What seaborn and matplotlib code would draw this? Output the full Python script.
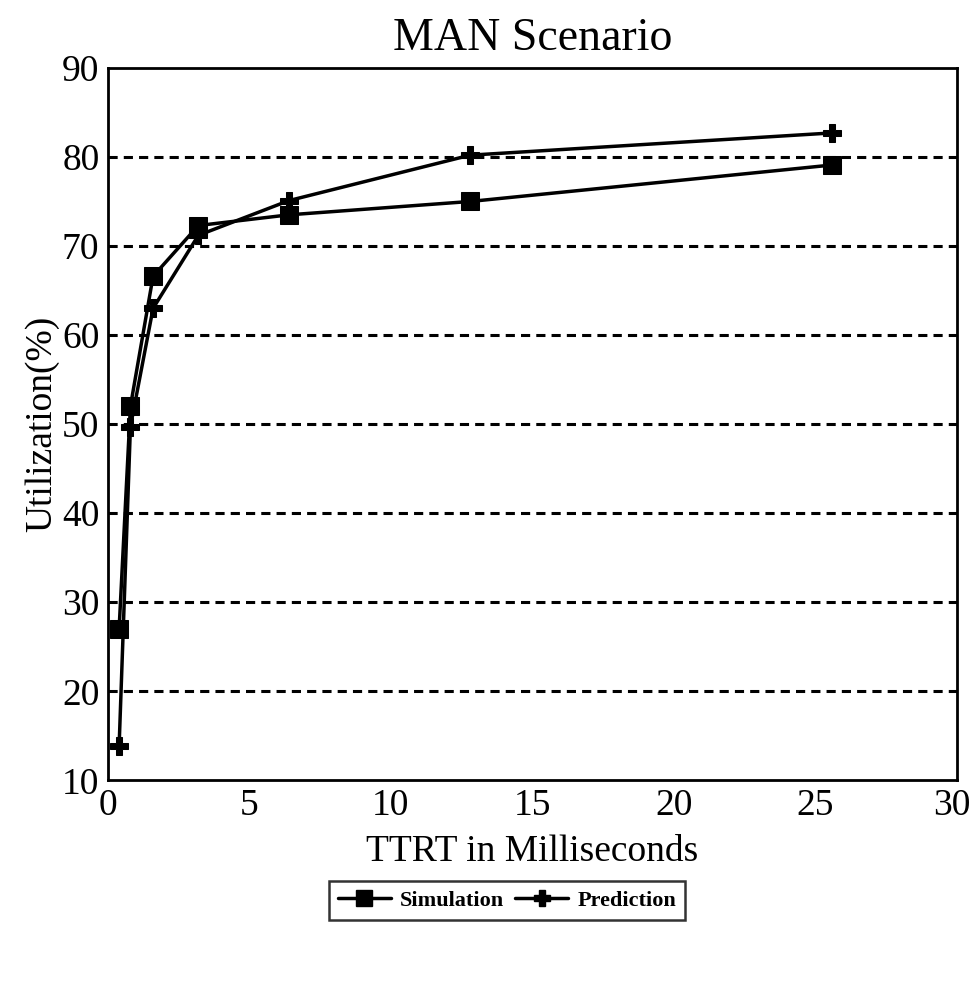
import pandas as pd
import matplotlib.pyplot as plt
import matplotlib.transforms as mtransforms
import seaborn as sns

# Data
ttrt = [0.4, 0.8, 1.6, 3.2, 6.4, 12.8, 25.6]
simulation = [27.0, 52.0, 66.6, 72.3, 73.5, 75.0, 79.1]
prediction = [13.8, 49.7, 63.0, 71.2, 75.1, 80.2, 82.7]
series_names = ["Simulation", "Prediction"]
y_ticks = [10, 20, 30, 40, 50, 60, 70, 80, 90]
x_ticks = [0, 5, 10, 15, 20, 25, 30]

df = pd.DataFrame({
    "TTRT": ttrt * 2,
    "Utilization": simulation + prediction,
    "Series": [series_names[0]] * len(ttrt) + [series_names[1]] * len(ttrt),
})

sns.set_style("white")
plt.rcParams["font.family"] = ["Liberation Serif", "DejaVu Serif"]
plt.rcParams["text.color"] = "black"
plt.rcParams["axes.labelcolor"] = "black"
plt.rcParams["xtick.color"] = "black"
plt.rcParams["ytick.color"] = "black"

fig = plt.figure(figsize=(9.71, 9.84), dpi=100)
ax = fig.add_axes([0.111, 0.207, 0.8746, 0.724])

sns.lineplot(
    data=df, x="TTRT", y="Utilization", hue="Series", style="Series",
    markers={"Simulation": "s", "Prediction": "P"}, dashes=False,
    palette={"Simulation": "black", "Prediction": "black"},
    markersize=13, linewidth=2.5, markeredgecolor="black",
    ax=ax, legend=False,
)

ax.set_xlim(0, 30)
ax.set_ylim(10, 90)
ax.set_xticks(x_ticks)
ax.set_yticks(y_ticks)
for y in y_ticks[1:-1]:
    ax.axhline(y, color="black", linestyle=(0, (3, 2)), linewidth=2.2, zorder=0)

for s in ax.spines.values():
    s.set_color("black")
    s.set_linewidth(2)

ax.tick_params(axis="x", direction="in", length=9, width=1.5, labelsize=27, pad=6)
ax.tick_params(axis="y", direction="out", length=5, width=1.5, labelsize=27, pad=1)
ax.set_xlabel("TTRT in Milliseconds", fontsize=27, labelpad=8)
ax.set_ylabel("Utilization(%)", fontsize=27, labelpad=2)
ax.set_title("MAN Scenario", fontsize=33, pad=13)

# keep the last x label inside the figure
fig.canvas.draw()
last = ax.get_xticklabels()[-1]
last.set_transform(last.get_transform() + mtransforms.ScaledTranslation(-4 / 72, 0, fig.dpi_scale_trans))

handles = [
    plt.Line2D([], [], color="black", marker="s", markersize=12, linewidth=2.5),
    plt.Line2D([], [], color="black", marker="P", markersize=12, linewidth=2.5),
]
leg = fig.legend(handles, series_names, loc="center", bbox_to_anchor=(0.522, 0.085),
                 ncol=2, frameon=True, fancybox=False, edgecolor="black",
                 handlelength=2.4, handletextpad=0.4, columnspacing=0.5,
                 borderpad=0.4, prop={"size": 16, "weight": "bold"})
leg.get_frame().set_linewidth(1.8)

fig.savefig("out.png", dpi=100)
